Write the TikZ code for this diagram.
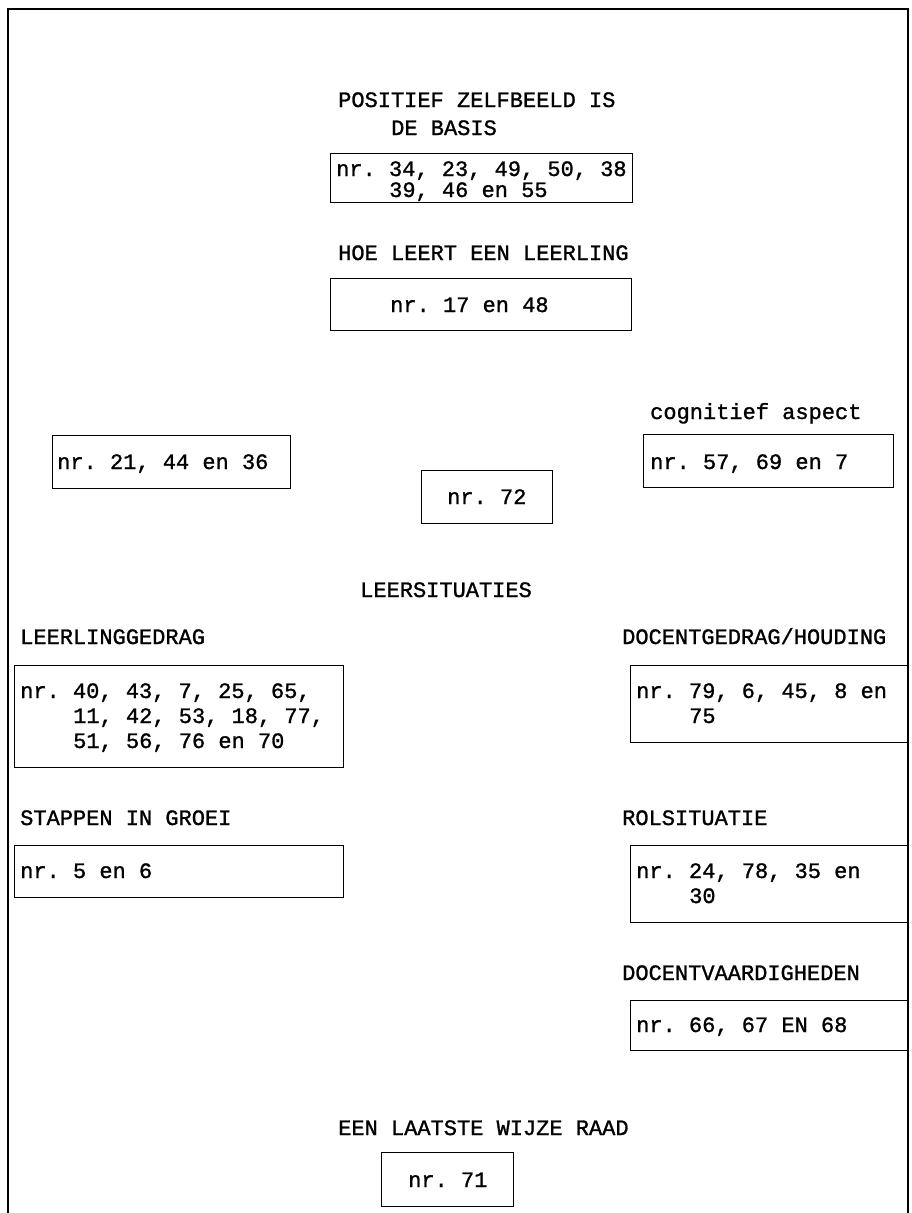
\documentclass[tikz,border=0pt]{standalone}
\usepackage{fontspec}
\setmonofont{Liberation Mono}[FakeBold=1.2]
\begin{document}
\begin{tikzpicture}[x=1pt,y=-1pt,
  lbl/.style={anchor=base west,inner sep=0pt,font=\ttfamily\fontsize{22}{25}\selectfont},
  box/.style={draw,line width=1.2pt,anchor=north west,inner sep=0pt},
  frame/.style={line width=1.6pt}]
\useasboundingbox (0,0) rectangle (912,1213);
% frame
\coordinate (fbl) at (8,1213);
\coordinate (ftl) at (8,9);
\coordinate (ftr) at (908,9);
\coordinate (fbr) at (908,1213);
\draw[frame] (fbl) -- (ftl) -- (ftr) -- (fbr);
% top title
\node[lbl] (t1a) at (338,107) {POSITIEF ZELFBEELD IS};
\node[lbl] (t1b) at (391,135) {DE BASIS};
\node[box,minimum width=302pt,minimum height=49pt] (b1) at (330,153) {};
\node[lbl] (b1a) at (336,176) {nr. 34, 23, 49, 50, 38};
\node[lbl] (b1b) at (389,197) {39, 46 en 55};
% hoe leert
\node[lbl] (t2) at (338,260) {HOE LEERT EEN LEERLING};
\node[box,minimum width=301pt,minimum height=52pt] (b2) at (330,278) {};
\node[lbl] (b2a) at (390,312) {nr. 17 en 48};
% middle row
\node[lbl] (t3) at (650,419) {cognitief aspect};
\node[box,minimum width=238pt,minimum height=53pt] (b3) at (52,435) {};
\node[lbl] (b3a) at (57,469) {nr. 21, 44 en 36};
\node[box,minimum width=250pt,minimum height=53pt] (b4) at (643,434) {};
\node[lbl] (b4a) at (650,469) {nr. 57, 69 en 7};
\node[box,minimum width=131pt,minimum height=53pt] (b5) at (421,470) {};
\node[lbl] (b5a) at (447,504) {nr. 72};
% leersituaties
\node[lbl] (t4) at (360,597) {LEERSITUATIES};
\node[lbl] (t5) at (20,644) {LEERLINGGEDRAG};
\node[box,minimum width=329pt,minimum height=102pt] (b6) at (14,665) {};
\node[lbl] (b6a) at (20,698) {nr. 40, 43, 7, 25, 65,};
\node[lbl] (b6b) at (73,723) {11, 42, 53, 18, 77,};
\node[lbl] (b6c) at (73,748) {51, 56, 76 en 70};
\node[lbl] (t6) at (622,644) {DOCENTGEDRAG/HOUDING};
\node[box,minimum width=277pt,minimum height=77pt] (b7) at (630,665) {};
\node[lbl] (b7a) at (636,698) {nr. 79, 6, 45, 8 en};
\node[lbl] (b7b) at (689,723) {75};
% stappen / rolsituatie
\node[lbl] (t7) at (20,825) {STAPPEN IN GROEI};
\node[box,minimum width=329pt,minimum height=52pt] (b8) at (14,845) {};
\node[lbl] (b8a) at (20,878) {nr. 5 en 6};
\node[lbl] (t8) at (622,825) {ROLSITUATIE};
\node[box,minimum width=277pt,minimum height=77pt] (b9) at (630,845) {};
\node[lbl] (b9a) at (636,878) {nr. 24, 78, 35 en};
\node[lbl] (b9b) at (689,903) {30};
% docentvaardigheden
\node[lbl] (t9) at (622,980) {DOCENTVAARDIGHEDEN};
\node[box,minimum width=277pt,minimum height=50pt] (b10) at (630,1000) {};
\node[lbl] (b10a) at (636,1032) {nr. 66, 67 EN 68};
% laatste
\node[lbl] (t10) at (338,1135) {EEN LAATSTE WIJZE RAAD};
\node[box,minimum width=132pt,minimum height=54pt] (b11) at (381,1152) {};
\node[lbl] (b11a) at (408,1187) {nr. 71};
\end{tikzpicture}
\end{document}
